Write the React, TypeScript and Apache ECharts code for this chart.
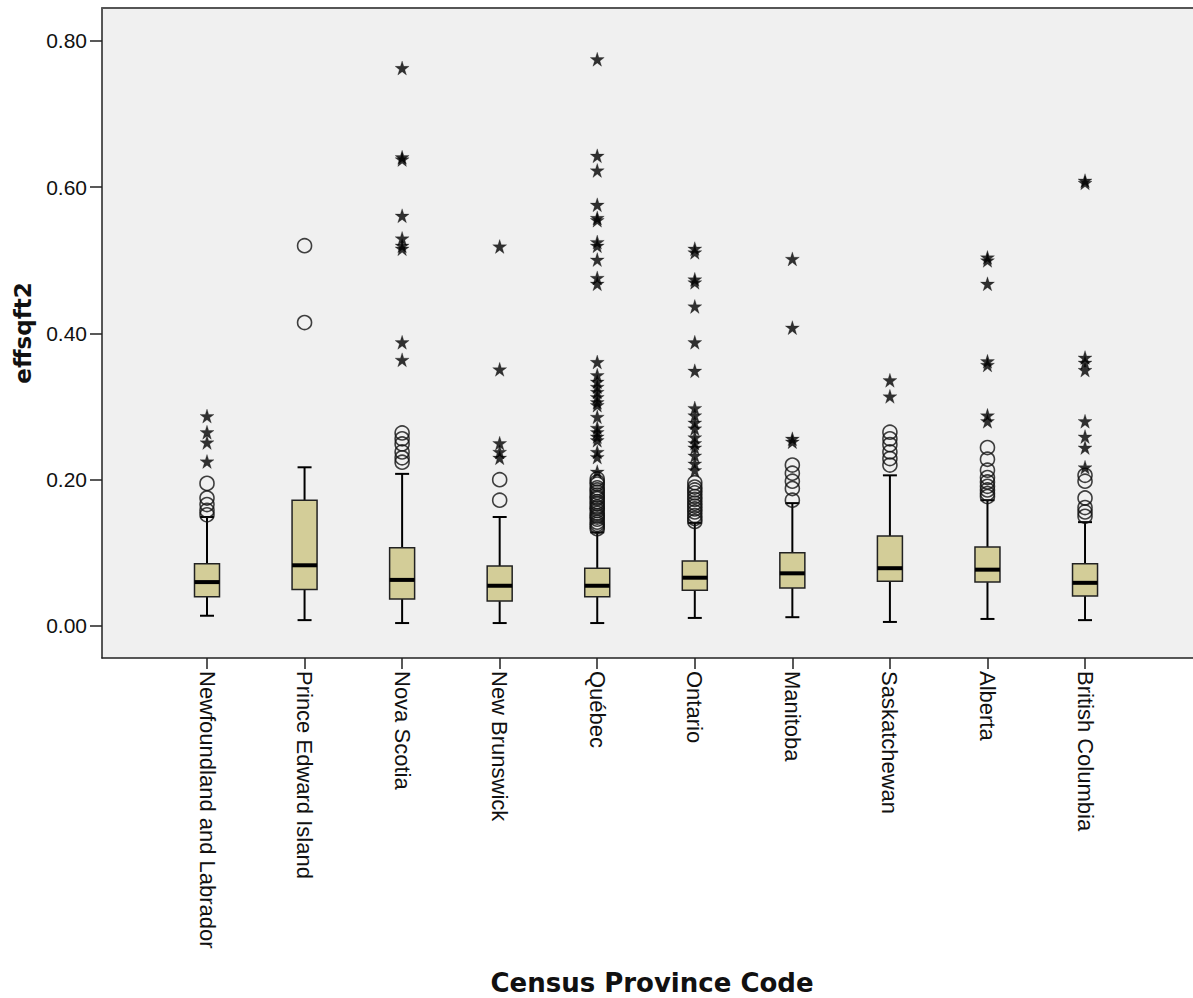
import React, { useEffect, useRef } from "react";
import * as echarts from "echarts";

const provinces = [
  "Newfoundland and Labrador",
  "Prince Edward Island",
  "Nova Scotia",
  "New Brunswick",
  "Québec",
  "Ontario",
  "Manitoba",
  "Saskatchewan",
  "Alberta",
  "British Columbia",
];

const whiskerLow = [0.014, 0.008, 0.004, 0.004, 0.004, 0.011, 0.012, 0.0055, 0.0096, 0.008];
const q1 = [0.040, 0.050, 0.037, 0.034, 0.040, 0.049, 0.052, 0.061, 0.060, 0.041];
const median = [0.060, 0.083, 0.063, 0.055, 0.055, 0.066, 0.072, 0.079, 0.077, 0.059];
const q3 = [0.085, 0.172, 0.107, 0.082, 0.079, 0.089, 0.100, 0.123, 0.108, 0.085];
const whiskerHigh = [0.149, 0.217, 0.208, 0.149, 0.128, 0.141, 0.168, 0.206, 0.172, 0.142];

// circles (outliers)
const mildOutliers = [
  [0.195, 0.175, 0.166, 0.158, 0.152],
  [0.520, 0.415],
  [0.264, 0.256, 0.249, 0.238, 0.230, 0.224],
  [0.200, 0.172],
  [0.201, 0.197, 0.194, 0.189, 0.186, 0.183, 0.179, 0.176, 0.174, 0.170, 0.167, 0.163, 0.161, 0.158, 0.154, 0.151, 0.149, 0.146, 0.142, 0.139, 0.136, 0.133],
  [0.196, 0.190, 0.186, 0.182, 0.177, 0.173, 0.168, 0.164, 0.160, 0.156, 0.151, 0.147, 0.143],
  [0.220, 0.209, 0.198, 0.188, 0.172],
  [0.265, 0.256, 0.248, 0.238, 0.229, 0.220],
  [0.244, 0.228, 0.213, 0.203, 0.197, 0.191, 0.186, 0.181, 0.177],
  [0.206, 0.198, 0.175, 0.162, 0.156, 0.150],
];

// stars (extremes)
const extremeOutliers = [
  [0.287, 0.265, 0.251, 0.225],
  [],
  [0.763, 0.641, 0.638, 0.561, 0.530, 0.520, 0.516, 0.388, 0.364],
  [0.519, 0.351, 0.250, 0.238, 0.230],
  [0.775, 0.643, 0.623, 0.576, 0.558, 0.555, 0.525, 0.520, 0.501, 0.476, 0.468, 0.361, 0.343, 0.334, 0.327, 0.320, 0.313, 0.306, 0.302, 0.286, 0.271, 0.265, 0.259, 0.254, 0.238, 0.231, 0.211],
  [0.516, 0.511, 0.474, 0.470, 0.437, 0.388, 0.349, 0.298, 0.288, 0.278, 0.270, 0.258, 0.250, 0.244, 0.233, 0.222, 0.213],
  [0.502, 0.408, 0.256, 0.252],
  [0.336, 0.314],
  [0.504, 0.500, 0.468, 0.362, 0.357, 0.288, 0.280],
  [0.609, 0.606, 0.367, 0.360, 0.350, 0.280, 0.259, 0.244, 0.217],
];

const yTicks = [0, 0.2, 0.4, 0.6, 0.8];

const STAR =
  "path://M50,0 L61.2,34.5 L97.6,34.5 L68.2,55.9 L79.4,90.5 L50,69.1 L20.6,90.5 L31.8,55.9 L2.4,34.5 L38.8,34.5 Z";

export default function App() {
  const ref = useRef<HTMLDivElement>(null);

  useEffect(() => {
    if (!ref.current) return;
    const chart = echarts.init(ref.current, undefined, { renderer: "svg" });

    const boxData = provinces.map((_, i) => [i, whiskerLow[i], q1[i], median[i], q3[i], whiskerHigh[i]]);
    const circleData: number[][] = [];
    mildOutliers.forEach((arr, i) => arr.forEach((v) => circleData.push([i, v])));
    const starData: number[][] = [];
    extremeOutliers.forEach((arr, i) => arr.forEach((v) => starData.push([i, v])));

    const catIdx = provinces.map((_, i) => i);
    const axisLineStyle = { color: "#222", width: 1.5 };

    chart.setOption({
      animation: false,
      backgroundColor: "#ffffff",
      grid: {
        left: 102,
        top: 8,
        width: 1100,
        height: 650,
        show: true,
        backgroundColor: "#f0f0f0",
        borderWidth: 0,
        borderColor: "transparent",
        containLabel: false,
        outerBoundsMode: "none",
      },
      xAxis: [
        {
          type: "value",
          min: -1.0763,
          max: 10.199,
          splitLine: { show: false },
          axisLine: { show: true, onZero: false, lineStyle: axisLineStyle },
          axisTick: { show: true, length: 11, customValues: catIdx, lineStyle: axisLineStyle },
          axisLabel: {
            customValues: catIdx,
            rotate: -90,
            margin: 13,
            fontFamily: "Liberation Sans, Arial, sans-serif",
            fontSize: 22,
            color: "#111",
            formatter: (v: number) => provinces[Math.round(v)] ?? "",
          },
          name: "Census Province Code",
          nameLocation: "middle",
          nameGap: 312,
          nameTextStyle: {
            fontFamily: "DejaVu Sans, sans-serif",
            fontWeight: "bold",
            fontSize: 26,
            color: "#111",
          },
        },
        {
          type: "value",
          position: "top",
          min: -1.0763,
          max: 10.199,
          splitLine: { show: false },
          axisLine: { show: true, onZero: false, lineStyle: { color: "#555", width: 2 } },
          axisTick: { show: false },
          axisLabel: { show: false },
        },
      ],
      yAxis: {
        type: "value",
        min: -0.0438,
        max: 0.8451,
        splitLine: { show: false },
        axisLine: { show: true, onZero: false, lineStyle: axisLineStyle },
        axisTick: { show: true, length: 12, customValues: yTicks, lineStyle: axisLineStyle },
        axisLabel: {
          customValues: yTicks,
          margin: 15,
          fontFamily: "Liberation Sans, Arial, sans-serif",
          fontSize: 21,
          color: "#111",
          formatter: (v: number) => v.toFixed(2),
        },
        name: "effsqft2",
        nameLocation: "middle",
        nameGap: 68,
        nameTextStyle: {
          fontFamily: "DejaVu Sans, sans-serif",
          fontWeight: "bold",
          fontSize: 23,
          color: "#111",
        },
      },
      series: [
        {
          type: "custom",
          data: boxData,
          encode: { x: 0, y: [1, 2, 3, 4, 5] },
          z: 2,
          renderItem: (params: any, api: any) => {
            const i = api.value(0);
            const lo = api.coord([i, api.value(1)]);
            const a = api.coord([i, api.value(2)]);
            const m = api.coord([i, api.value(3)]);
            const b = api.coord([i, api.value(4)]);
            const hi = api.coord([i, api.value(5)]);
            const x = lo[0];
            const bw = 25;
            const cw = 14;
            const ls = { stroke: "#000", lineWidth: 2 };
            return {
              type: "group",
              children: [
                { type: "line", shape: { x1: x, y1: hi[1], x2: x, y2: b[1] }, style: ls },
                { type: "line", shape: { x1: x, y1: a[1], x2: x, y2: lo[1] }, style: ls },
                { type: "line", shape: { x1: x - cw / 2, y1: hi[1], x2: x + cw / 2, y2: hi[1] }, style: ls },
                { type: "line", shape: { x1: x - cw / 2, y1: lo[1], x2: x + cw / 2, y2: lo[1] }, style: ls },
                {
                  type: "rect",
                  shape: { x: x - bw / 2, y: b[1], width: bw, height: a[1] - b[1] },
                  style: { fill: "#d3cd98", stroke: "#222", lineWidth: 1.5 },
                },
                {
                  type: "line",
                  shape: { x1: x - bw / 2, y1: m[1], x2: x + bw / 2, y2: m[1] },
                  style: { stroke: "#000", lineWidth: 4 },
                },
              ],
            };
          },
        },
        {
          type: "scatter",
          data: circleData,
          symbol: "circle",
          symbolSize: 14,
          z: 3,
          itemStyle: { color: "rgba(0,0,0,0)", borderColor: "#111", borderWidth: 1.6 },
        },
        {
          type: "scatter",
          data: starData,
          symbol: STAR,
          symbolSize: 14,
          z: 4,
          itemStyle: { color: "#000", borderColor: "#000", borderWidth: 0.3 },
        },
      ],
    });

    return () => chart.dispose();
  }, []);

  return (
    <div
      ref={ref}
      style={{ position: "absolute", left: 0, top: 0, width: 1193, height: 998 }}
    />
  );
}
